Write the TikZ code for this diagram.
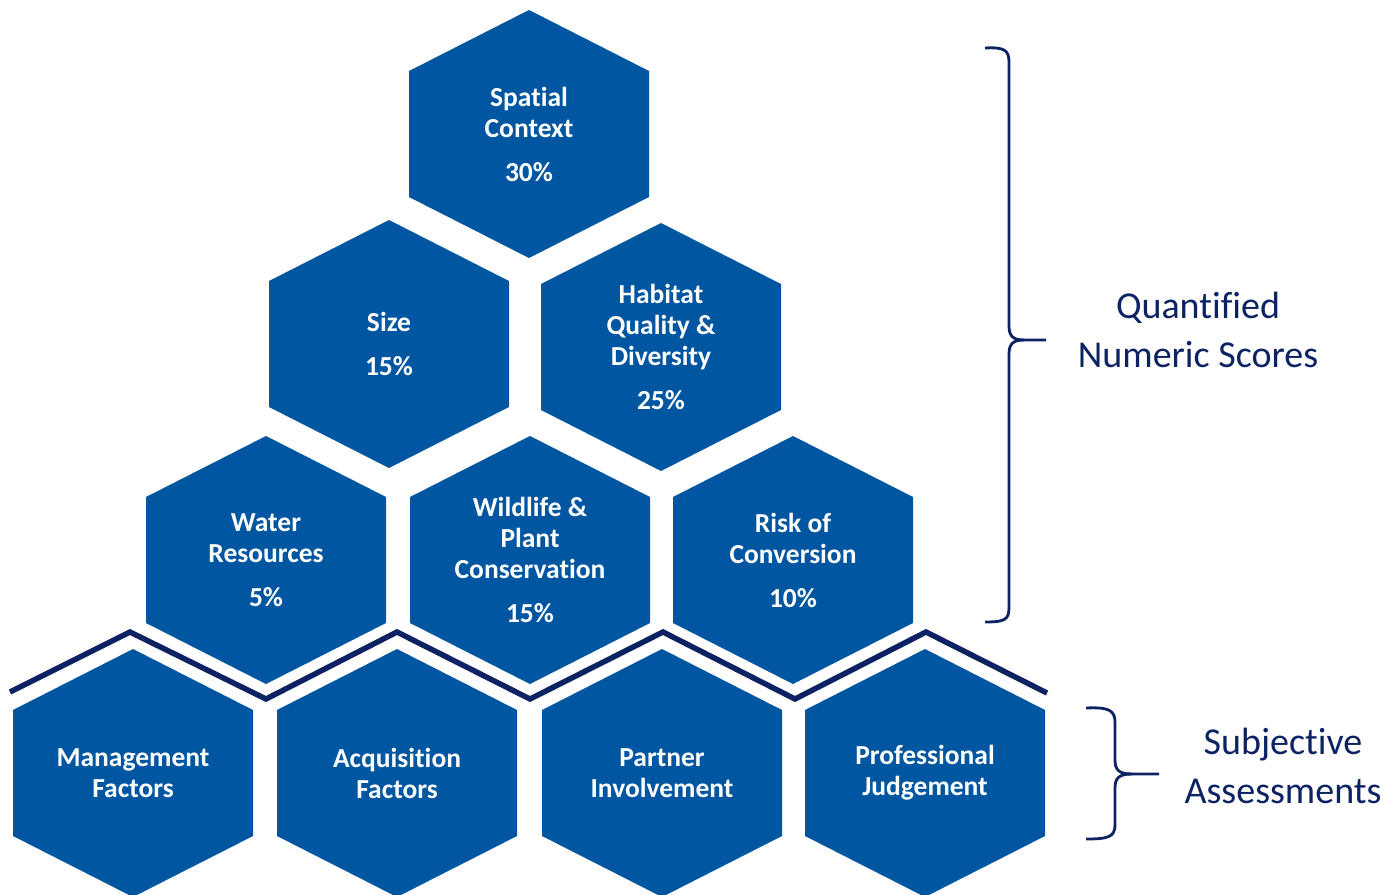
\documentclass[tikz,border=0pt]{standalone}
\usepackage{fontspec}
\setmainfont{Carlito}[RawFeature=-liga]
\usetikzlibrary{calc}
\definecolor{hexblue}{RGB}{0,86,161}
\definecolor{navy}{RGB}{13,34,99}

\begin{document}
\begin{tikzpicture}[x=1pt,y=-1pt,
    hexfill/.style={fill=hexblue},
    hexlabel/.style={text=white,align=center,font=\fontsize{27.5}{31}\selectfont\bfseries},
    divider/.style={draw=navy,line width=5.5pt,miter limit=10},
    brace/.style={draw=navy,line width=2.8pt},
    scorelabel/.style={text=navy,align=center,anchor=base,font=\fontsize{38}{49}\selectfont}]
    \useasboundingbox (0,0) rectangle (1397,894);
    \foreach \nm/\cx/\cy/\txt in {
        spatial/529/134/{Spatial\\Context\\[13pt]30\%},
        size/389/344/{Size\\[13pt]15\%},
        habitat/661/347/{Habitat\\Quality \&\\Diversity\\[13pt]25\%},
        water/266/560/{Water\\Resources\\[13pt]5\%},
        wildlife/530/560/{Wildlife \&\\Plant\\Conservation\\[13pt]15\%},
        risk/793/560/{Risk of\\Conversion\\[13pt]10\%},
        management/133/773/{Management\\Factors},
        acquisition/397/773/{Acquisition\\Factors},
        partner/662/773/{Partner\\Involvement},
        judgement/925/773/{Professional\\Judgement}} {
      \fill[hexfill] (\cx,\cy) ++(0,-124) -- ++(120,61) -- ++(0,126) -- ++(-120,61)
        -- ++(-120,-61) -- ++(0,-126) -- cycle;
      \node[hexlabel] (\nm) at (\cx,\cy) {\txt};
    }
    \draw[divider] (10,692) -- (130,632) -- (266,699) -- (397,632) -- (530,699)
      -- (663,632) -- (795,699) -- (926,632) -- (1047,693);
    \coordinate (qtip) at (1046,340);
    \coordinate (stip) at (1159,774);
    \draw[brace] (985,48) .. controls (1004,47) and (1009,50) .. (1009,62) -- (1009,326)
      .. controls (1009,336) and (1013,340) .. (1024,340) -- (qtip);
    \draw[brace] (1024,340) .. controls (1013,340) and (1009,344) .. (1009,354) -- (1009,608)
      .. controls (1009,620) and (1004,622) .. (985,622);
    \draw[brace] (1086,708) .. controls (1108,707) and (1115,710) .. (1115,722) -- (1115,760)
      .. controls (1115,770) and (1119,774) .. (1132,774) -- (stip);
    \draw[brace] (1132,774) .. controls (1119,774) and (1115,778) .. (1115,788) -- (1115,825)
      .. controls (1115,837) and (1108,839) .. (1086,839);
    \node[scorelabel] (quantified) at (1198,367) {Quantified\\Numeric Scores};
    \node[scorelabel] (subjective) at (1283,803) {Subjective\\Assessments};
\end{tikzpicture}
\end{document}
